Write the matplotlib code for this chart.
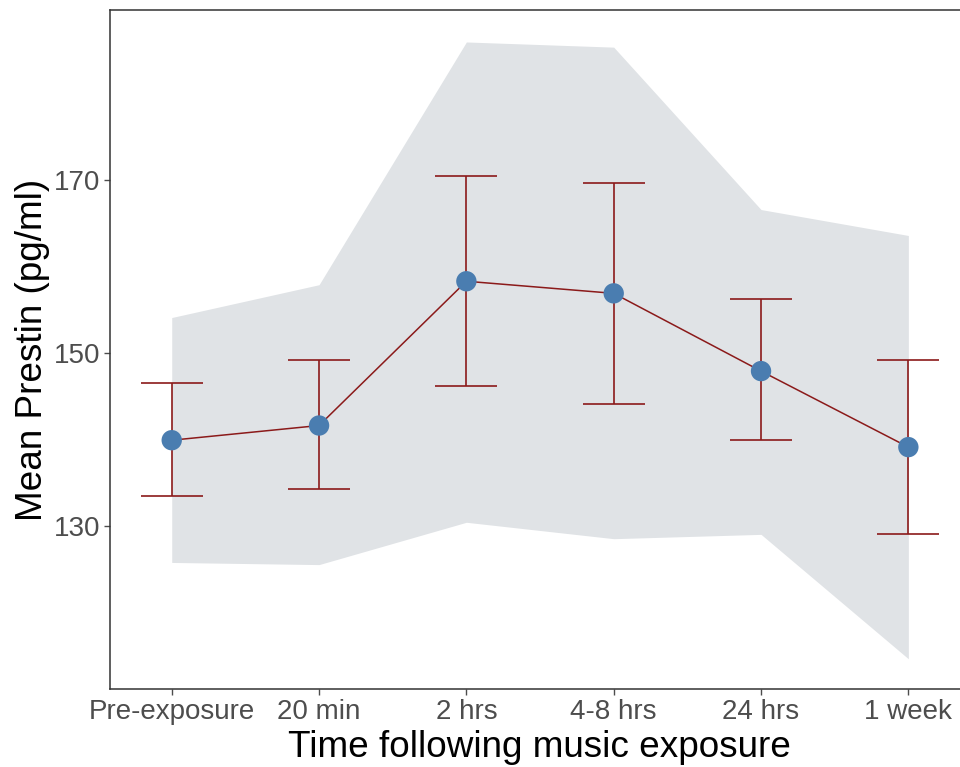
import matplotlib
matplotlib.use("Agg")
import matplotlib.pyplot as plt
import numpy as np

categories = ["Pre-exposure", "20 min", "2 hrs", "4-8 hrs", "24 hrs", "1 week"]
means = [139.9, 141.6, 158.3, 156.9, 147.9, 139.1]
err_low = [133.4, 134.2, 146.2, 144.1, 139.9, 129.1]
err_high = [146.5, 149.2, 170.5, 169.7, 156.2, 149.2]
band_low = [125.75, 125.5, 130.4, 128.5, 129.0, 114.6]
band_high = [154.1, 157.9, 186.0, 185.4, 166.6, 163.6]
yticks = [130, 150, 170]

plt.rcParams['font.family'] = ['Liberation Sans', 'DejaVu Sans']

fig = plt.figure(figsize=(9.6, 7.67), dpi=100)
ax = fig.add_axes([110/960, 78/767, 859.5/960, 679/767])

x = np.arange(len(categories))
ax.fill_between(x, band_low, band_high, color="#E0E3E6", linewidth=0, zorder=1)
ax.plot(x, means, color="#8B1A1A", linewidth=1.1, zorder=3)
ax.errorbar(x, means, yerr=[np.array(means) - np.array(err_low), np.array(err_high) - np.array(means)],
            fmt="none", ecolor="#8B1A1A", elinewidth=1.2, capsize=22, capthick=1.2, zorder=2)
ax.scatter(x, means, s=215, color="#4A7DB0", edgecolors="none", zorder=4)

ax.set_xlim(-0.419, 5.415)
ax.set_ylim(111.1, 189.7)
ax.set_xticks(x)
ax.set_xticklabels(categories)
ax.set_yticks(yticks)
ax.tick_params(axis="both", labelsize=20, colors="#4D4D4D", length=4, width=1, pad=3)
for lab in ax.get_xticklabels() + ax.get_yticklabels():
    lab.set_color("#4D4D4D")
for sp in ax.spines.values():
    sp.set_color("#333333")
    sp.set_linewidth(1.1)

ax.set_xlabel("Time following music exposure", fontsize=26.6, color="black", labelpad=4)
ax.set_ylabel("Mean Prestin (pg/ml)", fontsize=26.6, color="black", labelpad=3)

fig.savefig("out.png", dpi=100, facecolor="white")
